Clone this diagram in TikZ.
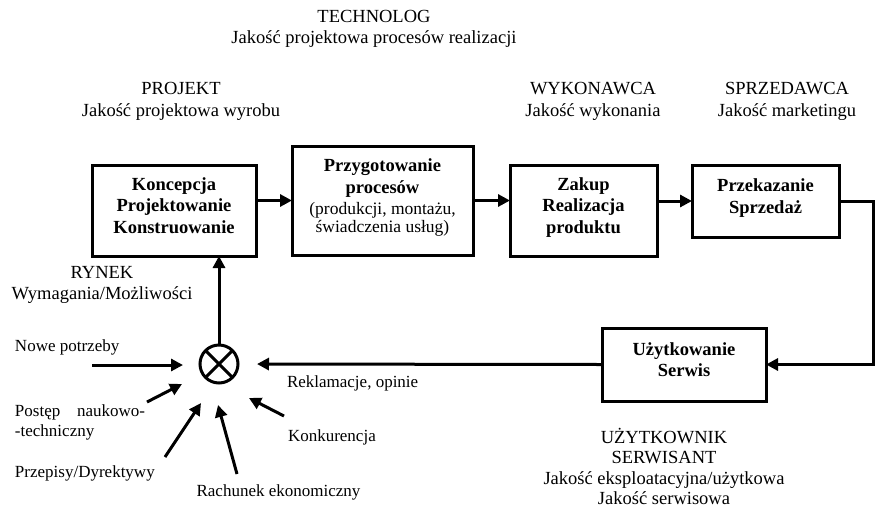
\documentclass[tikz,border=0pt]{standalone}
\usepackage{fontspec}
\setmainfont{Liberation Serif}
\usetikzlibrary{arrows.meta}
\begin{document}
\begin{tikzpicture}[x=1pt,y=-1pt,
  every node/.style={inner sep=0pt, outer sep=0pt},
  txt/.style={align=center, font=\fontsize{18.5}{21.5}\selectfont},
  ltxt/.style={align=left, anchor=west, font=\fontsize{17}{19.5}\selectfont},
  ctxt/.style={align=center, font=\fontsize{17}{19.5}\selectfont},
  box/.style={draw, line width=3pt, align=center, text depth=10pt,
    font=\fontsize{18.5}{21.5}\selectfont\bfseries},
  conn/.style={line width=3pt, -{Triangle[length=12pt,width=12pt]}},
  sumnode/.style={draw, circle, line width=3pt, minimum size=38pt}
]
\fill[white] (0,0) rectangle (876,507);
\useasboundingbox (0,0) rectangle (876,507);

% boxes
\node[box, minimum width=164pt, minimum height=91pt] (b1) at (174,210.5)
  {Koncepcja\\Projektowanie\\Konstruowanie};
\node[box, minimum width=181pt, minimum height=109pt] (b2) at (382.5,200.5)
  {Przygotowanie\\procesów\\{\mdseries\fontsize{17.5}{18}\selectfont (produkcji, montażu,}\\[-4pt]{\mdseries\fontsize{17.5}{18}\selectfont świadczenia usług)}};
\node[box, minimum width=147pt, minimum height=91pt] (b3) at (583.5,210.5)
  {Zakup\\Realizacja\\produktu};
\node[box, minimum width=147pt, minimum height=72pt] (b4) at (765.5,201)
  {Przekazanie\\Sprzedaż};
\node[box, minimum width=164pt, minimum height=73pt] (b5) at (684,364.5)
  {Użytkowanie\\Serwis};

% summing junction
\node[sumnode] (sum) at (219,364) {};
\draw[line width=3pt] (sum.45) -- (sum.225) (sum.135) -- (sum.315);

% role labels
\node[txt] (tech) at (374,29) {TECHNOLOG\\Jakość projektowa procesów realizacji};
\node[txt] (proj) at (181,101.5) {PROJEKT\\Jakość projektowa wyrobu};
\node[txt] (wyk) at (593,101.5) {WYKONAWCA\\Jakość wykonania};
\node[txt] (sprz) at (787,101.5) {SPRZEDAWCA\\Jakość marketingu};
\node[txt] (ryn) at (102,285) {RYNEK\\Wymagania/Możliwości};
\node[txt, font=\fontsize{18.5}{20.3}\selectfont] (uzyt) at (664,466.5)
  {UŻYTKOWNIK\\SERWISANT\\Jakość eksploatacyjna/użytkowa\\Jakość serwisowa};

% input labels
\node[ltxt] (lnp) at (15,347) {Nowe potrzeby};
\node[ltxt] (lpn) at (15,422.5) {\makebox[130pt][l]{Postęp\hfill naukowo-}\\-techniczny};
\node[ltxt] (lpd) at (15,473) {Przepisy/Dyrektywy};
\node[ctxt] (lre) at (278.5,492) {Rachunek ekonomiczny};
\node[ltxt] (lko) at (288,437) {Konkurencja};
\node[ltxt] (lrk) at (287,383) {Reklamacje, opinie};

% main flow
\draw[conn] (b1.east |- b2.west) -- (b2.west);
\draw[conn] (b2.east) -- (b2.east -| b3.west);
\draw[conn] (b3.east |- b4.west) -- (b4.west);
\coordinate (fbtop) at (873.5,201);
\coordinate (fbbot) at (873.5,364.5);
\draw[conn] (b4.east) -- (fbtop) -- (fbbot) -- (b5.east);
\draw[conn, shorten >=19pt] (b5.west) -- (sum.east);
\draw[conn] (sum.north) -- (sum.north |- b1.south);

% inputs
\coordinate (np1) at (92,365);  \coordinate (np2) at (183,365);
\coordinate (pn1) at (147,402); \coordinate (pn2) at (182,384);
\coordinate (pd1) at (165,457); \coordinate (pd2) at (201,403);
\coordinate (re1) at (237,474); \coordinate (re2) at (218,405);
\coordinate (ko1) at (284,416); \coordinate (ko2) at (249,398);
\draw[conn] (np1) -- (np2);
\draw[conn] (pn1) -- (pn2);
\draw[conn] (pd1) -- (pd2);
\draw[conn] (re1) -- (re2);
\draw[conn] (ko1) -- (ko2);
\end{tikzpicture}
\end{document}
